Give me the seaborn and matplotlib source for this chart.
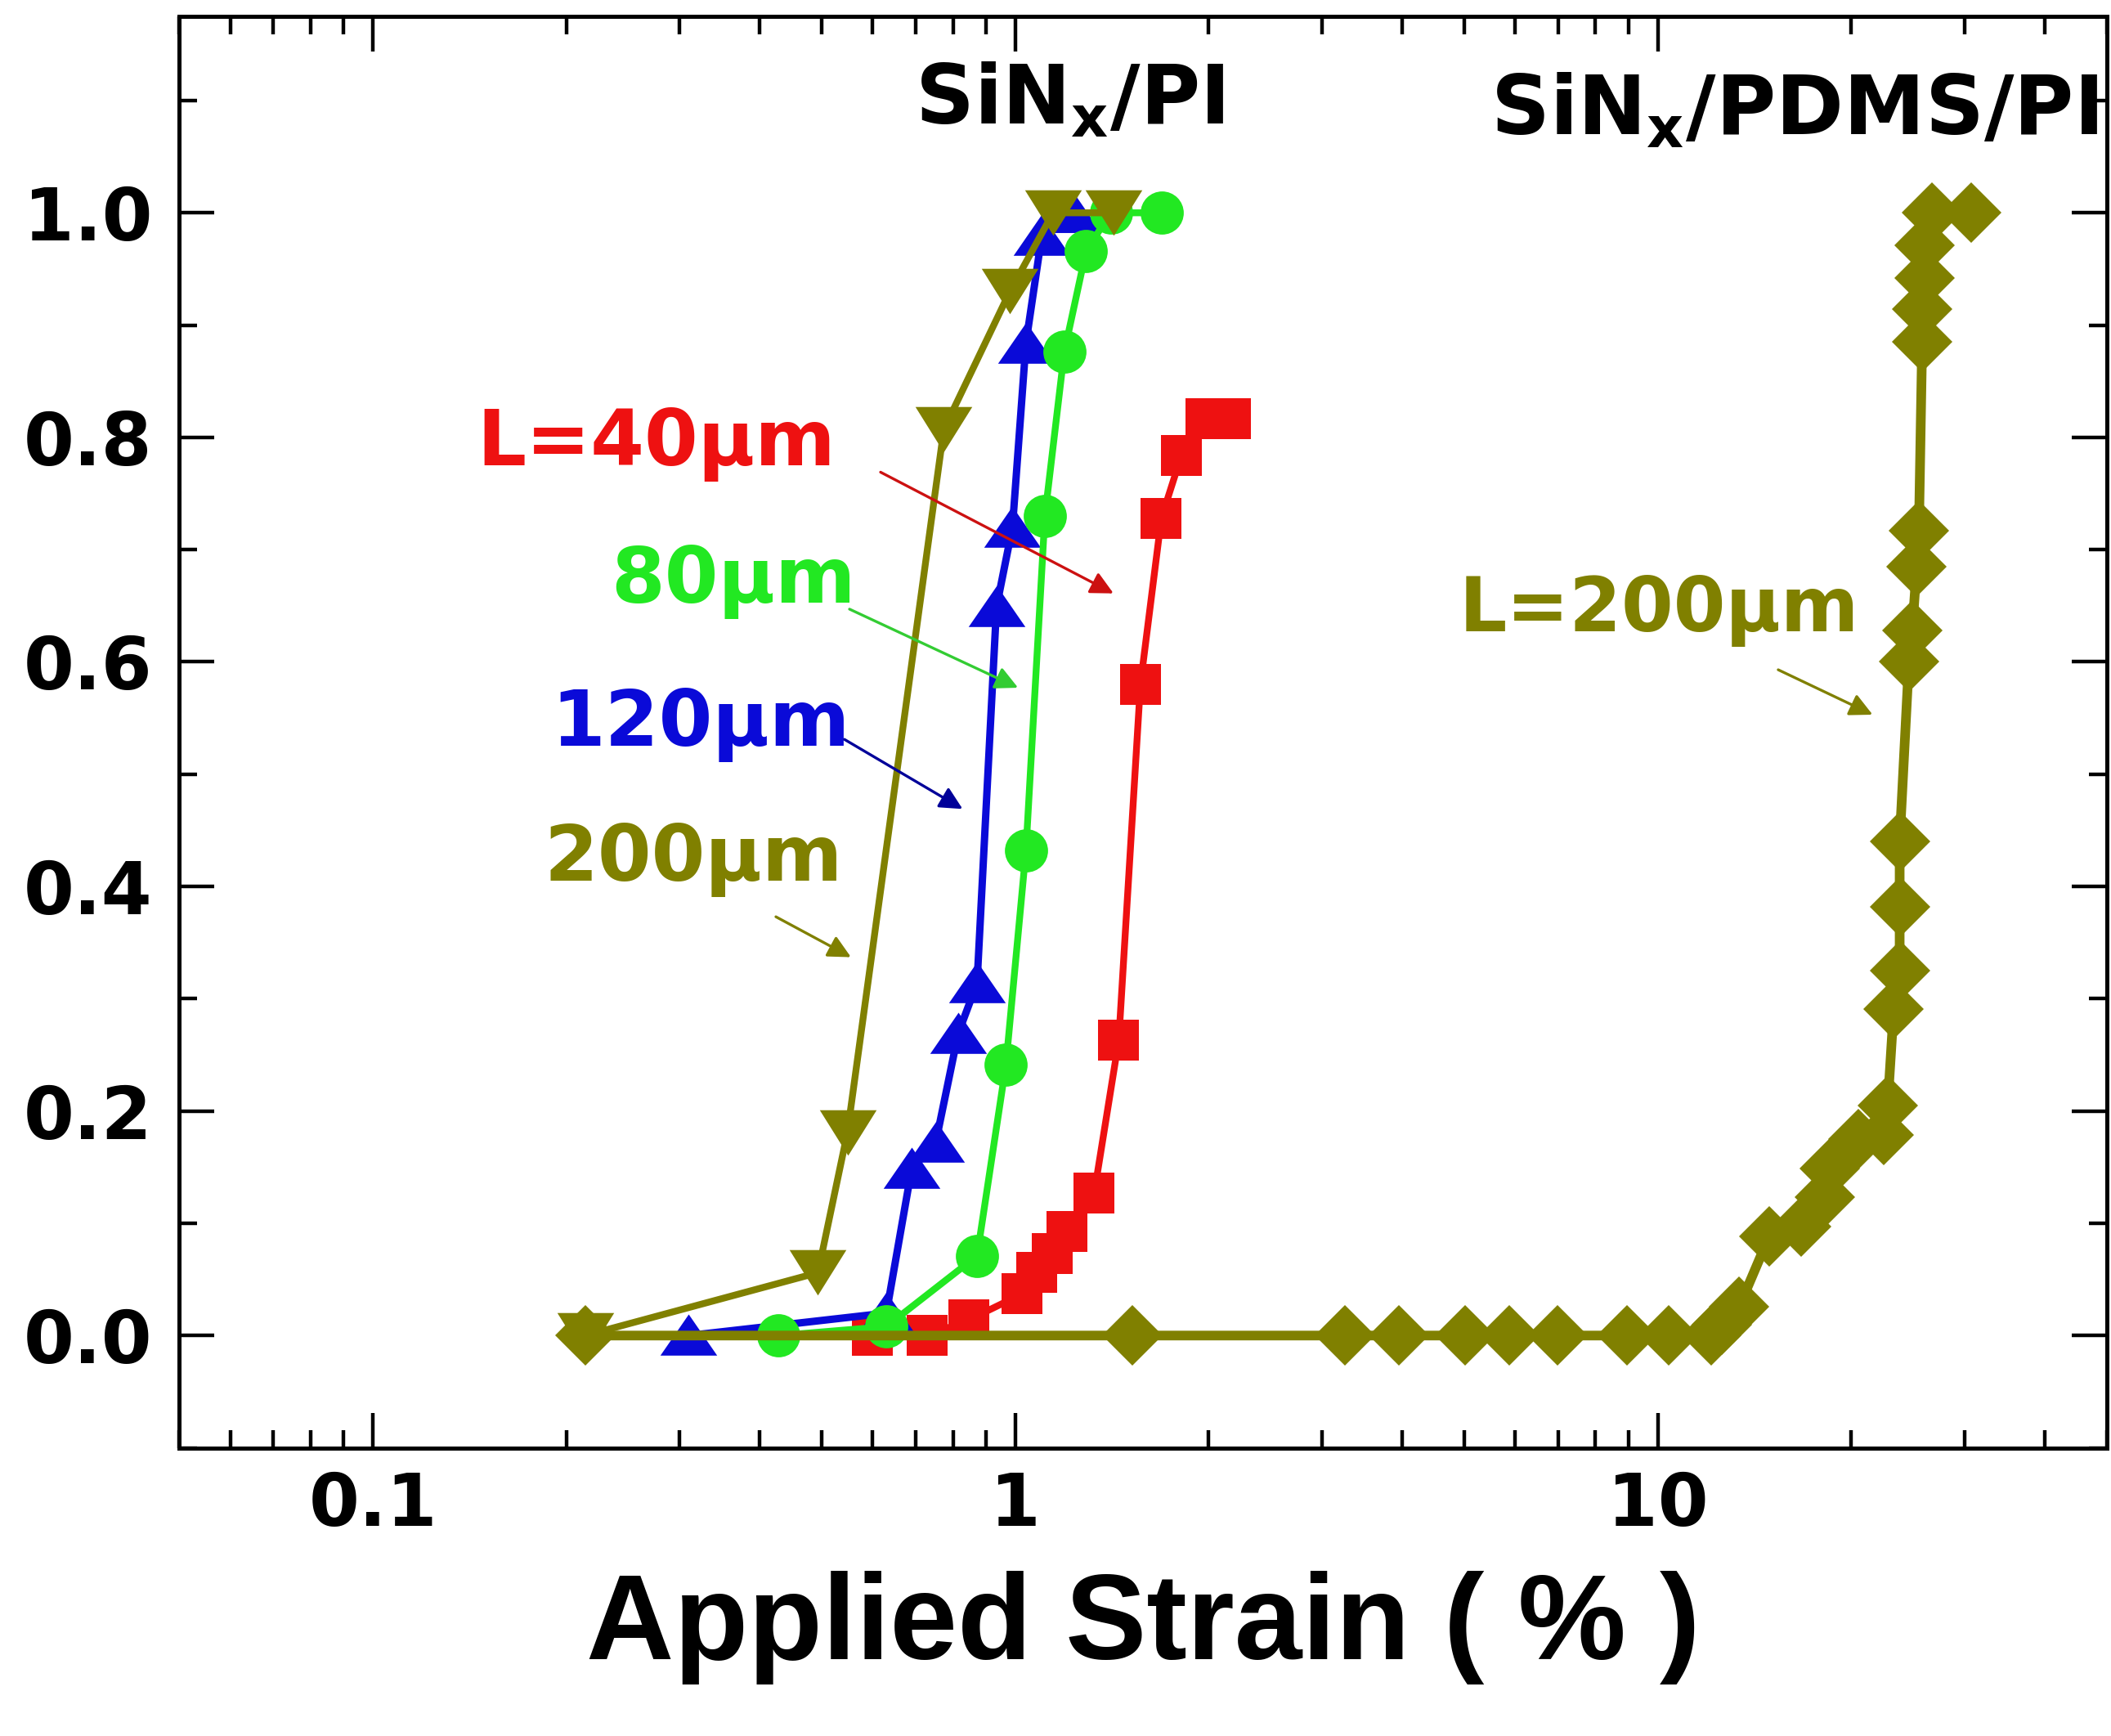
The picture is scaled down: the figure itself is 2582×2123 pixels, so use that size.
import numpy as np
import matplotlib
matplotlib.use('Agg')
import matplotlib.pyplot as plt
from matplotlib.ticker import MultipleLocator, LogLocator, FixedLocator, FixedFormatter, NullFormatter
import seaborn as sns

sns.set_style('ticks')
plt.rcParams['font.family'] = ['DejaVu Sans']
plt.rcParams['font.weight'] = 'bold'
plt.rcParams['mathtext.default'] = 'bf'
plt.rcParams['text.color'] = 'black'
plt.rcParams['axes.labelcolor'] = 'black'

# SiNx/PI, crack length L = 40 um (red squares)
strain_40 = [0.60, 0.73, 0.847, 1.024, 1.081, 1.141, 1.204, 1.327, 1.449, 1.566, 1.688, 1.814, 1.98, 2.16]
frac_40 = [0.0, 0.0, 0.014, 0.037, 0.056, 0.073, 0.093, 0.127, 0.263, 0.580, 0.728, 0.784, 0.817, 0.817]

# L = 80 um (green circles)
strain_80 = [0.428, 0.63, 0.872, 0.967, 1.039, 1.112, 1.192, 1.289, 1.408, 1.692]
frac_80 = [0.0, 0.008, 0.071, 0.241, 0.432, 0.730, 0.876, 0.966, 1.0, 1.0]

# L = 120 um (blue up triangles)
strain_120 = [0.31, 0.63, 0.69, 0.752, 0.815, 0.872, 0.935, 0.99, 1.039, 1.10, 1.17, 1.23]
frac_120 = [0.0, 0.02, 0.149, 0.172, 0.269, 0.314, 0.649, 0.720, 0.884, 0.980, 1.0, 1.0]

# L = 200 um (olive down triangles)
strain_200 = [0.214, 0.493, 0.548, 0.774, 0.981, 1.145, 1.422]
frac_200 = [0.0, 0.056, 0.181, 0.807, 0.930, 1.0, 1.0]

# SiNx/PDMS/PI, L = 200 um (olive diamonds)
strain_pdms = [0.214, 1.52, 3.26, 3.96, 5.01, 5.88, 6.99, 8.95, 10.4, 12.1, 12.6, 13.4, 14.9, 16.7,
               18.2, 18.5, 20.5, 22.5, 22.8, 23.3, 23.8, 23.8, 23.8, 24.6, 24.9, 25.3, 25.5, 25.8,
               25.8, 26.0, 26.0, 26.7, 30.8]
frac_pdms = [0, 0, 0, 0, 0, 0, 0, 0, 0, 0, 0.01, 0.026, 0.088, 0.097,
             0.123, 0.149, 0.175, 0.179, 0.205, 0.291, 0.325, 0.382, 0.44, 0.600, 0.628, 0.685, 0.717, 0.885,
             0.914, 0.942, 0.971, 1.0, 1.0]

red = '#ee1111'
green = '#22e822'
blue = '#0a0ad8'
olive = '#808000'

tri_up = np.array([(-1, -0.7), (1, -0.7), (0, 0.75), (-1, -0.7)])
tri_down = np.array([(-1, 0.8), (1, 0.8), (0, -0.8), (-1, 0.8)])

fig, ax = plt.subplots(figsize=(25.82, 21.23), dpi=100)
fig.subplots_adjust(left=0.085, right=0.998, top=0.9906, bottom=0.166)

series = [
    (strain_40, frac_40, red, 's', 36, 6.0, 3),
    (strain_120, frac_120, blue, tri_up, 50, 6.5, 4),
    (strain_80, frac_80, green, 'o', 38, 6.0, 5),
    (strain_200, frac_200, olive, tri_down, 50, 6.0, 6),
    (strain_pdms, frac_pdms, olive, 'D', 38, 8.5, 7),
]
for xs, ys, c, m, ms, lw, z in series:
    sns.lineplot(x=xs, y=ys, color=c, marker=m, markersize=ms, markeredgewidth=0,
                 estimator=None, sort=False, zorder=z, ax=ax)
    ax.lines[-1].set_linewidth(lw)

ax.set_xscale('log')
ax.set_xlim(0.05, 50)
ax.set_ylim(-0.1, 1.175)

ax.xaxis.set_major_locator(FixedLocator([0.1, 1, 10]))
ax.xaxis.set_major_formatter(FixedFormatter(['0.1', '1', '10']))
ax.xaxis.set_minor_locator(LogLocator(base=10, subs=np.arange(2, 10)))
ax.xaxis.set_minor_formatter(NullFormatter())
ax.yaxis.set_major_locator(MultipleLocator(0.2))
ax.yaxis.set_minor_locator(MultipleLocator(0.1))
ax.yaxis.set_major_formatter(matplotlib.ticker.FormatStrFormatter('%.1f'))

ax.tick_params(which='both', direction='in', top=True, right=True, width=3.2, colors='black')
ax.tick_params(which='major', length=31, labelsize=64)
ax.tick_params(which='minor', length=16)
ax.tick_params(axis='x', which='major', pad=20)
ax.tick_params(axis='y', which='major', pad=24)
for s in ax.spines.values():
    s.set_linewidth(3.6)
    s.set_color('black')

ax.set_xlabel('Applied Strain ( % )', fontsize=107, fontfamily='Liberation Sans',
              fontweight='bold', color='black', labelpad=26)
ax.set_ylabel('')

# sample labels
ax.text(0.697, 1.079, r'SiN$_\mathbf{x}$/PI', fontsize=72, color='black', ha='left', va='baseline')
ax.text(5.49, 1.07, r'SiN$_\mathbf{x}$/PDMS/PI', fontsize=72, color='black', ha='left', va='baseline')

# crack length labels with arrows
ax.text(0.1453, 0.775, 'L=40μm', fontsize=68, color=red, ha='left', va='baseline')
ax.text(0.235, 0.653, '80μm', fontsize=68, color=green, ha='left', va='baseline')
ax.text(0.1894, 0.525, '120μm', fontsize=68, color=blue, ha='left', va='baseline')
ax.text(0.185, 0.405, '200μm', fontsize=68, color=olive, ha='left', va='baseline')
ax.text(4.91, 0.627, 'L=200μm', fontsize=66, color=olive, ha='left', va='baseline')

arrows = [((0.617, 0.769), (1.422, 0.661), '#cc1111'),
          ((0.552, 0.647), (1.01, 0.577), '#33cc33'),
          ((0.542, 0.531), (0.828, 0.469), '#000099'),
          ((0.424, 0.373), (0.555, 0.337), olive),
          ((15.4, 0.593), (21.6, 0.553), olive)]
for start, end, c in arrows:
    ax.annotate('', xy=end, xytext=start,
                arrowprops=dict(arrowstyle='-|>', color=c, lw=2.4, mutation_scale=42,
                                shrinkA=0, shrinkB=0), zorder=8)

fig.savefig('out.png', dpi=100)
